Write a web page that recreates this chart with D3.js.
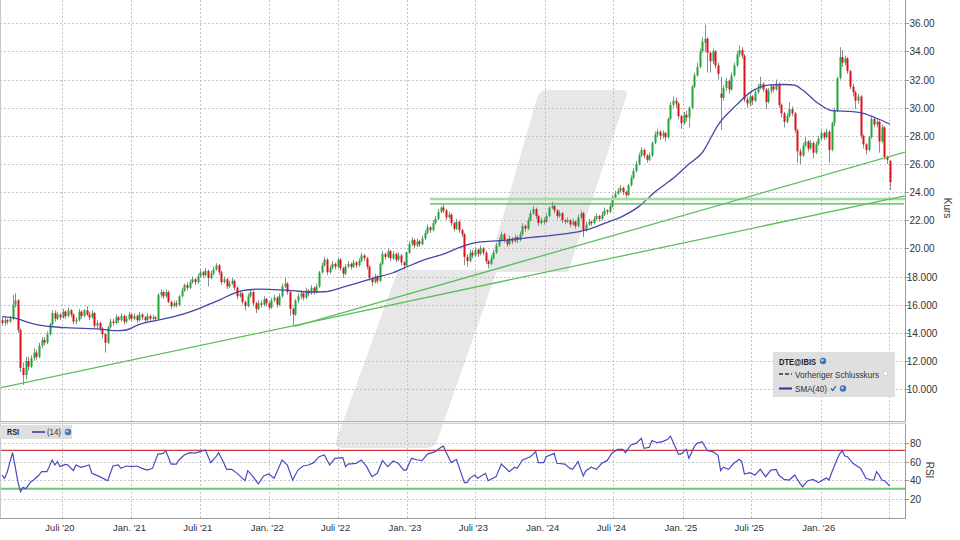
<!DOCTYPE html>
<html>
<head>
<meta charset="utf-8">
<script src="https://cdn.jsdelivr.net/npm/d3@7"></script>
<style>
  body { margin: 0; background: #fff; }
  svg { display: block; font-family: "Liberation Sans", Arial, sans-serif; }
</style>
</head>
<body>
<svg id="chart"></svg>
<script>
const width = 960;
const height = 540;

// weekly candles, first week
const firstWeek = Date.UTC(2020, 0, 24);

const opens = [
  14.9,14.7,14.9,14.8,15.0,16.0,16.3,14.2,11.5,11.0,
  12.0,11.6,12.2,12.6,12.3,13.1,13.5,13.3,13.9,14.6,
  15.4,15.0,15.3,15.1,15.5,15.2,15.6,15.3,14.8,14.9,
  15.5,15.2,15.6,15.3,15.1,15.4,14.5,14.7,14.3,13.9,
  13.3,14.4,14.8,14.7,15.1,14.9,15.2,14.8,15.0,15.3,
  15.0,15.2,14.9,15.3,15.1,14.9,15.2,15.0,15.1,15.0,
  16.7,16.9,16.6,16.9,16.2,15.9,16.1,16.0,16.6,17.0,
  17.4,17.2,17.6,17.8,17.6,18.0,18.3,18.1,18.4,17.9,
  18.2,18.5,18.8,18.3,17.6,17.8,17.3,17.5,17.7,17.2,
  16.6,16.8,16.2,15.9,16.6,16.9,16.1,15.7,16.1,16.0,
  16.4,16.1,15.8,16.3,16.5,16.0,16.6,17.3,17.5,16.9,
  15.7,15.3,16.3,16.6,16.8,16.5,17.0,16.8,17.2,16.9,
  17.3,18.3,18.8,19.2,18.3,18.6,18.9,18.7,19.2,18.6,
  18.2,18.7,18.9,18.7,19.0,18.8,19.1,19.5,19.3,18.7,
  17.9,17.6,18.0,17.7,18.9,19.6,19.4,19.8,19.3,19.6,
  19.2,19.5,19.0,18.8,19.7,20.3,20.6,20.2,20.5,20.3,
  20.7,21.1,21.5,21.3,21.8,22.1,22.6,22.9,22.7,22.2,
  22.4,21.8,21.4,21.9,21.3,21.0,19.4,19.1,19.7,19.5,
  19.9,19.6,20.0,19.7,19.1,18.9,19.3,19.7,20.2,20.6,
  21.0,20.6,20.3,20.7,20.5,20.8,20.6,21.0,21.6,21.4,
  22.0,22.5,22.8,22.3,21.8,22.0,21.9,22.3,22.9,23.0,
  22.7,22.3,22.5,22.0,21.9,22.0,21.7,21.9,21.6,22.2,
  22.5,21.3,21.7,21.9,21.8,22.1,22.3,22.1,22.4,22.7,
  22.6,23.0,23.6,23.9,24.1,24.3,24.0,23.8,24.5,25.0,
  25.5,26.0,26.6,27.0,26.6,26.3,26.6,27.5,28.1,28.3,
  28.0,28.2,27.9,29.2,30.2,30.5,30.3,29.4,28.9,29.5,
  29.3,30.0,31.5,32.3,32.9,34.0,34.6,34.9,33.9,33.3,
  34.0,33.0,31.0,30.7,31.4,31.9,31.3,32.3,33.0,33.8,
  34.1,33.7,30.6,30.3,30.8,30.5,31.1,31.4,31.7,31.3,
  30.4,31.2,31.5,31.3,31.7,30.2,29.6,29.0,29.4,29.9,
  29.6,28.4,26.9,26.6,27.3,27.6,27.1,27.5,26.8,27.4,
  27.8,28.2,27.9,28.3,27.0,28.9,29.8,32.1,33.6,33.2,
  33.5,32.6,31.5,31.1,30.5,30.8,28.0,27.4,27.0,27.9,
  29.2,28.8,29.0,27.6,28.6,26.5,26.2
];
const closes = [
  14.7,14.9,14.8,15.0,16.0,16.3,14.2,11.5,11.0,12.0,
  11.6,12.2,12.6,12.3,13.1,13.5,13.3,13.9,14.6,15.4,
  15.0,15.3,15.1,15.5,15.2,15.6,15.3,14.8,14.9,15.5,
  15.2,15.6,15.3,15.1,15.4,14.5,14.7,14.3,13.9,13.3,
  14.4,14.8,14.7,15.1,14.9,15.2,14.8,15.0,15.3,15.0,
  15.2,14.9,15.3,15.1,14.9,15.2,15.0,15.1,15.0,16.7,
  16.9,16.6,16.9,16.2,15.9,16.1,16.0,16.6,17.0,17.4,
  17.2,17.6,17.8,17.6,18.0,18.3,18.1,18.4,17.9,18.2,
  18.5,18.8,18.3,17.6,17.8,17.3,17.5,17.7,17.2,16.6,
  16.8,16.2,15.9,16.6,16.9,16.1,15.7,16.1,16.0,16.4,
  16.1,15.8,16.3,16.5,16.0,16.6,17.3,17.5,16.9,15.7,
  15.3,16.3,16.6,16.8,16.5,17.0,16.8,17.2,16.9,17.3,
  18.3,18.8,19.2,18.3,18.6,18.9,18.7,19.2,18.6,18.2,
  18.7,18.9,18.7,19.0,18.8,19.1,19.5,19.3,18.7,17.9,
  17.6,18.0,17.7,18.9,19.6,19.4,19.8,19.3,19.6,19.2,
  19.5,19.0,18.8,19.7,20.3,20.6,20.2,20.5,20.3,20.7,
  21.1,21.5,21.3,21.8,22.1,22.6,22.9,22.7,22.2,22.4,
  21.8,21.4,21.9,21.3,21.0,19.4,19.1,19.7,19.5,19.9,
  19.6,20.0,19.7,19.1,18.9,19.3,19.7,20.2,20.6,21.0,
  20.6,20.3,20.7,20.5,20.8,20.6,21.0,21.6,21.4,22.0,
  22.5,22.8,22.3,21.8,22.0,21.9,22.3,22.9,23.0,22.7,
  22.3,22.5,22.0,21.9,22.0,21.7,21.9,21.6,22.2,22.5,
  21.3,21.7,21.9,21.8,22.1,22.3,22.1,22.4,22.7,22.6,
  23.0,23.6,23.9,24.1,24.3,24.0,23.8,24.5,25.0,25.5,
  26.0,26.6,27.0,26.6,26.3,26.6,27.5,28.1,28.3,28.0,
  28.2,27.9,29.2,30.2,30.5,30.3,29.4,28.9,29.5,29.3,
  30.0,31.5,32.3,32.9,34.0,34.7,34.9,33.9,33.3,34.0,
  33.0,32.4,30.7,31.4,31.9,31.3,32.3,33.0,33.8,34.1,
  33.7,30.6,30.3,30.8,30.5,31.1,31.4,31.7,31.3,30.4,
  31.2,31.5,31.3,31.7,30.2,29.6,29.0,29.4,29.9,29.6,
  28.4,26.9,26.6,27.3,27.6,27.1,27.5,26.8,27.4,27.8,
  28.2,27.9,28.3,27.0,28.9,29.8,32.1,33.6,33.2,33.5,
  32.6,31.5,31.1,30.5,30.8,28.0,27.4,27.0,27.9,29.2,
  28.8,29.0,27.6,28.6,26.5,26.3,24.7
];
const highs = [
  15.1,15.1,15.0,15.2,16.7,16.8,16.4,14.3,11.9,12.3,
  12.3,12.4,12.9,12.8,13.3,13.7,13.7,14.1,14.7,15.6,
  15.6,15.5,15.4,15.7,15.6,15.8,15.7,15.4,15.1,15.7,
  15.6,15.7,15.9,15.5,15.6,15.5,14.9,14.8,14.4,14.0,
  14.5,15.0,15.0,15.3,15.2,15.4,15.3,15.2,15.5,15.4,
  15.4,15.3,15.5,15.4,15.2,15.4,15.3,15.3,15.2,16.8,
  17.1,17.0,17.1,17.0,16.3,16.3,16.3,16.7,17.2,17.5,
  17.6,17.8,18.0,17.9,18.2,18.5,18.4,18.6,18.5,18.4,
  18.7,18.95,18.9,18.4,18.0,17.9,17.7,17.9,17.8,17.3,
  17.0,16.9,16.3,16.8,17.1,17.0,16.2,16.3,16.3,16.6,
  16.5,16.2,16.5,16.7,16.6,16.8,17.5,17.9,17.6,17.0,
  15.8,16.4,16.8,17.0,16.9,17.2,17.1,17.4,17.3,17.5,
  18.4,19.0,19.4,19.3,18.8,19.1,19.0,19.3,19.3,18.7,
  18.9,19.1,19.0,19.2,19.1,19.3,19.7,19.6,19.4,18.8,
  18.0,18.2,18.1,19.0,19.8,19.7,20.0,19.9,19.8,19.7,
  19.7,19.6,19.1,19.8,20.5,20.8,20.7,20.7,20.6,20.9,
  21.3,21.7,21.6,22.0,22.3,22.8,23.0,23.15,22.8,22.6,
  22.5,21.9,22.1,22.0,21.4,21.1,19.6,19.9,19.9,20.1,
  20.0,20.2,20.1,19.8,19.2,19.5,19.9,20.4,20.8,21.2,
  21.1,20.7,20.9,20.8,21.0,20.9,21.2,21.8,21.7,22.2,
  22.7,23.0,22.9,22.4,22.2,22.2,22.5,23.0,23.3,23.1,
  22.8,22.7,22.6,22.1,22.2,22.1,22.1,22.0,22.4,22.7,
  22.6,21.9,22.1,22.0,22.3,22.5,22.4,22.6,22.9,22.8,
  23.2,23.8,24.1,24.3,24.5,24.4,24.1,24.6,25.2,25.7,
  26.2,26.8,27.2,27.1,26.7,26.8,27.6,28.3,28.5,28.4,
  28.4,28.3,29.3,30.4,30.8,30.7,30.4,29.5,29.7,29.8,
  30.1,31.6,32.5,33.2,34.2,35.0,35.9,35.0,34.0,34.2,
  34.1,33.2,32.2,31.6,32.1,32.0,32.5,33.2,34.0,34.4,
  34.3,33.8,30.8,31.0,30.9,31.3,31.7,32.2,31.8,31.4,
  31.4,31.7,31.6,32.0,31.8,30.3,29.7,29.6,30.4,30.1,
  29.7,28.5,27.1,27.5,27.9,27.7,27.7,27.6,27.6,28.0,
  28.4,28.3,28.5,28.4,29.0,30.0,32.2,34.3,34.1,33.7,
  33.6,32.7,31.7,31.2,31.0,30.9,28.1,27.5,28.0,29.4,
  29.3,29.2,29.1,28.8,28.7,26.6,26.3
];
const lows = [
  14.5,14.5,14.6,14.7,14.9,15.8,14.0,11.2,10.3,10.7,
  11.3,11.5,12.0,12.1,12.2,12.9,13.1,13.2,13.8,14.5,
  14.8,14.9,14.9,15.0,15.0,15.1,15.1,14.6,14.6,14.8,
  15.0,15.1,15.2,14.9,15.0,14.3,14.3,14.1,13.6,12.6,
  13.2,14.3,14.5,14.6,14.7,14.8,14.6,14.7,14.9,14.8,
  14.9,14.7,14.8,14.9,14.7,14.8,14.8,14.9,14.8,14.9,
  16.5,16.4,16.5,16.1,15.7,15.8,15.8,15.9,16.5,16.9,
  17.0,17.1,17.5,17.4,17.5,17.9,17.9,18.0,17.3,17.8,
  18.1,18.4,18.1,17.4,17.5,17.1,17.2,17.4,17.0,16.4,
  16.5,16.0,15.6,15.8,16.5,15.9,15.4,15.6,15.8,15.9,
  15.9,15.6,15.7,16.2,15.8,15.9,16.5,17.2,16.7,15.2,
  14.45,15.2,16.1,16.4,16.3,16.4,16.6,16.7,16.7,16.8,
  17.2,18.2,18.7,18.1,18.2,18.5,18.5,18.6,18.4,17.9,
  18.1,18.6,18.5,18.6,18.6,18.7,19.0,19.1,18.5,17.7,
  17.3,17.5,17.5,17.6,18.8,19.2,19.3,19.1,19.2,19.0,
  19.1,18.8,18.5,18.7,19.6,20.2,20.0,20.1,20.1,20.2,
  20.6,21.0,21.1,21.2,21.7,22.0,22.5,22.5,22.0,22.1,
  21.6,21.2,21.3,21.1,20.8,18.8,18.7,19.0,19.3,19.4,
  19.4,19.5,19.5,18.9,18.6,18.8,19.2,19.6,20.1,20.5,
  20.4,20.1,20.2,20.3,20.4,20.4,20.5,20.9,21.2,21.3,
  21.9,22.4,22.1,21.6,21.7,21.7,21.8,22.2,22.8,22.5,
  22.1,22.2,21.8,21.7,21.8,21.5,21.6,21.4,21.5,22.1,
  20.8,21.2,21.6,21.6,21.7,22.0,21.9,22.0,22.3,22.4,
  22.5,22.9,23.5,23.8,24.0,23.8,23.4,23.7,24.4,24.9,
  25.4,25.9,26.5,26.4,26.1,26.2,26.5,27.4,27.9,27.7,
  27.8,27.6,27.8,29.1,30.0,30.0,29.2,28.5,28.8,29.0,
  28.6,29.9,31.4,32.2,32.8,33.9,34.0,32.5,32.5,33.1,
  32.8,32.0,28.4,30.5,31.2,31.0,31.2,32.2,32.9,33.6,
  33.5,30.4,30.0,30.1,30.2,30.4,31.0,31.3,31.1,29.9,
  30.3,31.0,31.1,31.2,30.0,29.3,28.6,28.9,29.3,29.4,
  28.2,26.1,26.0,26.5,27.2,26.9,27.0,26.4,26.7,27.3,
  27.7,27.7,27.8,26.1,26.9,28.7,29.7,32.0,32.9,33.0,
  32.4,31.3,30.8,29.9,30.3,27.8,27.1,26.7,26.9,27.8,
  28.6,28.6,26.8,27.5,26.3,26.0,24.15
];

// SMA(40), read at selected weeks
const smaWeeks = [0,6,9,14,18,26,37,44,47,52,59,65,72,78,83,87,91,97,103,110,
  116,122,129,135,141,148,154,160,167,173,178,184,190,197,203,209,216,222,228,235,
  241,247,254,260,265,271,278,284,290,296,300,303,309,314,322,326,331,336];
const smaValues = [15.15,15.0,14.8,14.55,14.45,14.35,14.27,14.15,14.2,14.6,14.9,15.15,15.55,16.0,16.4,16.75,17.0,17.1,17.07,17.0,
  16.9,16.92,17.24,17.57,17.9,18.27,18.75,19.2,19.6,20.05,20.36,20.5,20.57,20.72,20.83,20.95,21.12,21.36,21.78,22.3,
  22.97,24.0,24.98,26.0,26.8,28.77,30.2,31.2,31.6,31.65,31.6,31.26,30.3,29.8,29.72,29.6,29.25,28.84];

// RSI(14)
const rsiWeeks = [0,1,2,4,5,6,7,8,9,11,
  12,14,15,17,19,20,21,22,24,25,
  27,28,30,33,34,37,40,42,44,45,
  47,49,51,53,55,57,59,61,62,64,
  66,67,69,71,73,75,77,79,81,82,
  84,85,87,89,92,93,95,97,99,101,
  103,106,108,110,112,114,116,118,120,122,
  124,126,129,130,131,134,136,138,140,142,
  144,146,148,150,152,153,155,157,159,161,
  164,165,167,168,170,172,175,176,177,179,
  180,182,183,184,187,189,192,194,195,197,
  200,202,203,205,206,209,210,213,215,216,
  218,220,221,223,225,227,229,231,233,235,
  236,238,240,242,243,245,246,248,250,252,
  253,256,257,259,260,262,263,265,267,269,
  271,272,273,275,277,279,280,281,283,285,
  287,289,291,293,294,296,298,300,302,303,
  305,307,309,311,312,313,314,316,317,318,
  319,320,322,324,325,327,329,330,331,332,
  333,334,336];
const rsiValues = [45.7,42.2,49,69.5,54.6,38.7,28,32.6,31.2,38.7,
  40.4,45.7,49.3,49.3,61.7,56.4,60,54.6,57,56.4,
  50.4,56.4,54,56.4,47.5,44,39.7,55.3,56.4,52.8,
  55.3,54.6,55.3,52.8,51,52.8,68,68.8,71.6,57.4,
  57.4,61.7,67,69.5,69,70.6,72.3,58.9,65.2,69.5,
  58.2,51.8,51.8,47.5,39.7,50.4,44,36.2,44.7,46.8,
  42.2,61.7,56.4,40.4,51,55.3,56.4,58.9,65.2,67,
  56.4,63.5,64.2,54.6,57.4,58.2,61.7,54.6,44,47.5,
  61,54.6,60.6,58.2,51,51,63.5,62,61,68,
  70.6,73,76.6,70.6,58.9,62.4,37.6,37.6,42.2,45.7,
  42.2,45.7,47.5,39.7,44,57.4,49.3,54,52.8,61.7,
  65.2,70.6,58.9,58.9,65.2,68.8,58.2,57.4,52.8,51.8,
  60,44.7,50.4,54,51.8,58.2,61,69.5,73,73,
  69.5,77.7,79.4,84.8,74.1,75.2,82.3,80.1,81.2,83.7,
  87.2,68,68,73,63.5,75.9,79.4,81.2,71.6,70.6,
  67,50.4,54,51.8,58.2,62.4,60,46.8,48.2,45.7,
  51.8,44,51,51.8,45.7,41.1,40.4,45.7,36.9,33.3,
  39.7,41.1,37.6,41.1,42.5,40.5,48.2,62,68,71.6,
  66,65.2,58.2,54.6,52.8,42.2,40.4,40.4,49.3,45.7,
  40.4,39.7,34];
const rsiUpper = 72;
const rsiLower = 31;

// trend lines and support lines (date, price)
const trendLines = [
  { from: ["2020-01-19", 10.08], to: ["2026-08-12", 23.73] },
  { from: ["2022-03-10", 14.45], to: ["2026-08-12", 26.85] }
];
const supportLight = { from: "2023-03-03", to: "2026-08-12", price: 23.51 };
const supportDark = { from: "2023-03-03", to: "2026-08-10", price: 23.16 };

const xTickDates = ["2020-07-01","2021-01-01","2021-07-01","2022-01-01","2022-07-01","2023-01-01","2023-07-01",
  "2024-01-01","2024-07-01","2025-01-01","2025-07-01","2026-01-01","2026-07-01"];
const xTickLabels = ["Juli '20","Jan. '21","Juli '21","Jan. '22","Juli '22","Jan. '23","Juli '23",
  "Jan. '24","Juli '24","Jan. '25","Juli '25","Jan. '26",""];
const yTicks = [10,12,14,16,18,20,22,24,26,28,30,32,34,36];
const yTickLabels = ["10.000","12.000","14.000","16.000","18.000","20.00","22.00","24.00","26.00","28.00","30.00","32.00","34.00","36.00"];
const rsiTicks = [20,40,60,80];

// ---------------------------------------------------------------
const day = 864e5;
const weekDate = i => new Date(firstWeek + i * 7 * day);
const parse = s => new Date(s + "T00:00:00Z");

const plotRight = 905;
const mainTop = 0, mainBottom = 421;
const rsiTop = 424, rsiBottom = 518;

const x = d3.scaleTime()
  .domain([parse("2020-07-01"), parse("2026-07-01")])
  .range([62, 889]);
const y = d3.scaleLinear().domain([7.733, 37.656]).range([mainBottom, mainTop]);
const yR = d3.scaleLinear().domain([0, 100]).range([rsiBottom, rsiTop]);

const svg = d3.select("#chart").attr("width", width).attr("height", height);

const defs = svg.append("defs");
defs.append("clipPath").attr("id", "clipMain")
  .append("rect").attr("x", 0).attr("y", mainTop).attr("width", plotRight).attr("height", mainBottom - mainTop);
defs.append("clipPath").attr("id", "clipRsi")
  .append("rect").attr("x", 0).attr("y", rsiTop).attr("width", plotRight).attr("height", rsiBottom - rsiTop);

// watermark (two offset slanted bars)
const wm = svg.append("g").attr("fill", "#e7e7e7");
wm.append("path")
  .attr("d", "M546,90 L621,90 Q629,90 626,98 L568,272 L487,272 L537,98 Q540,90 546,90 Z");
wm.append("path")
  .attr("d", "M398,270 L497,270 L437,441 Q434,448 427,448 L342,448 Q334,448 336,441 Z");

// grid
const grid = svg.append("g").attr("stroke", "#c4c4c4").attr("stroke-dasharray", "2,2").attr("stroke-width", 1);
yTicks.forEach(v => {
  grid.append("line").attr("x1", 0).attr("x2", plotRight)
    .attr("y1", Math.round(y(v)) + 0.5).attr("y2", Math.round(y(v)) + 0.5);
});
rsiTicks.forEach(v => {
  grid.append("line").attr("x1", 0).attr("x2", plotRight)
    .attr("y1", Math.round(yR(v)) + 0.5).attr("y2", Math.round(yR(v)) + 0.5);
});
xTickDates.forEach(d => {
  const xx = Math.round(x(parse(d))) + 0.5;
  grid.append("line").attr("x1", xx).attr("x2", xx).attr("y1", mainTop).attr("y2", mainBottom);
  grid.append("line").attr("x1", xx).attr("x2", xx).attr("y1", rsiTop).attr("y2", rsiBottom);
});

// main plot
const main = svg.append("g").attr("clip-path", "url(#clipMain)");

const candles = closes.map((c, i) => ({ d: weekDate(i), o: opens[i], h: highs[i], l: lows[i], c }));

main.append("g").selectAll("line")
  .data(candles).join("line")
  .attr("x1", d => Math.round(x(d.d)) + 0.5)
  .attr("x2", d => Math.round(x(d.d)) + 0.5)
  .attr("y1", d => y(d.h))
  .attr("y2", d => y(d.l))
  .attr("stroke", "#8c8c8c")
  .attr("stroke-width", 1);

main.append("g").selectAll("rect")
  .data(candles).join("rect")
  .attr("x", d => Math.round(x(d.d)) - 0.5)
  .attr("width", 2)
  .attr("y", d => y(Math.max(d.o, d.c)))
  .attr("height", d => Math.max(1, Math.abs(y(d.o) - y(d.c))))
  .attr("fill", d => d.c >= d.o ? "#1fa83a" : "#e0101a");

// SMA
const smaData = smaWeeks.map((w, i) => ({ d: weekDate(w), v: smaValues[i] }));
main.append("path")
  .datum(smaData)
  .attr("fill", "none")
  .attr("stroke", "#4646a8")
  .attr("stroke-width", 1.3)
  .attr("d", d3.line().x(d => x(d.d)).y(d => y(d.v)).curve(d3.curveMonotoneX));

// support lines
main.append("line")
  .attr("x1", x(parse(supportLight.from))).attr("x2", x(parse(supportLight.to)))
  .attr("y1", y(supportLight.price)).attr("y2", y(supportLight.price))
  .attr("stroke", "#9fe09f").attr("stroke-width", 2.5);
main.append("line")
  .attr("x1", x(parse(supportDark.from))).attr("x2", x(parse(supportDark.to)))
  .attr("y1", y(supportDark.price)).attr("y2", y(supportDark.price))
  .attr("stroke", "#4cb04c").attr("stroke-width", 1.2);

// trend lines
main.selectAll(".trend")
  .data(trendLines).join("line")
  .attr("class", "trend")
  .attr("x1", d => x(parse(d.from[0]))).attr("y1", d => y(d.from[1]))
  .attr("x2", d => x(parse(d.to[0]))).attr("y2", d => y(d.to[1]))
  .attr("stroke", "#5cbf5c").attr("stroke-width", 1.3);

// RSI panel
const rsiG = svg.append("g").attr("clip-path", "url(#clipRsi)");
rsiG.append("line").attr("x1", 0).attr("x2", plotRight)
  .attr("y1", yR(rsiUpper)).attr("y2", yR(rsiUpper))
  .attr("stroke", "#d03a3a").attr("stroke-width", 1.3);
rsiG.append("line").attr("x1", 0).attr("x2", plotRight)
  .attr("y1", yR(rsiLower)).attr("y2", yR(rsiLower))
  .attr("stroke", "#6cc86c").attr("stroke-width", 2);
const rsiData = rsiWeeks.map((w, i) => ({ d: weekDate(w), v: rsiValues[i] }));
rsiG.append("path")
  .datum(rsiData)
  .attr("fill", "none")
  .attr("stroke", "#4a4ac0")
  .attr("stroke-width", 1.2)
  .attr("d", d3.line().x(d => x(d.d)).y(d => yR(d.v)));

// frames
const frame = svg.append("g").attr("fill", "none");
frame.append("line").attr("x1", 0.5).attr("x2", 0.5).attr("y1", 0).attr("y2", rsiBottom).attr("stroke", "#c8c8c8");
frame.append("line").attr("x1", plotRight + 0.5).attr("x2", plotRight + 0.5).attr("y1", 0).attr("y2", mainBottom).attr("stroke", "#9a9a9a");
frame.append("line").attr("x1", plotRight + 0.5).attr("x2", plotRight + 0.5).attr("y1", rsiTop).attr("y2", rsiBottom + 1).attr("stroke", "#9a9a9a");
frame.append("rect").attr("x", 0).attr("y", mainBottom).attr("width", plotRight + 1).attr("height", rsiTop - mainBottom).attr("fill", "#ececec");
frame.append("line").attr("x1", 0).attr("x2", plotRight + 1).attr("y1", mainBottom + 0.5).attr("y2", mainBottom + 0.5).attr("stroke", "#b4b4b4");
frame.append("line").attr("x1", 0).attr("x2", plotRight + 1).attr("y1", rsiTop - 0.5).attr("y2", rsiTop - 0.5).attr("stroke", "#d0d0d0");
frame.append("line").attr("x1", 0).attr("x2", plotRight + 1).attr("y1", rsiBottom + 0.5).attr("y2", rsiBottom + 0.5).attr("stroke", "#9a9a9a");

// y axis (price)
const yAxisG = svg.append("g").attr("font-size", 10).attr("fill", "#333");
yTicks.forEach((v, i) => {
  const yy = Math.round(y(v)) + 0.5;
  yAxisG.append("line").attr("x1", plotRight).attr("x2", plotRight + 4).attr("y1", yy).attr("y2", yy).attr("stroke", "#9a9a9a");
  yAxisG.append("text").attr("x", 922).attr("y", yy).attr("dy", "0.35em")
    .attr("text-anchor", "middle").text(yTickLabels[i]);
});
rsiTicks.forEach(v => {
  const yy = Math.round(yR(v)) + 0.5;
  yAxisG.append("line").attr("x1", plotRight).attr("x2", plotRight + 4).attr("y1", yy).attr("y2", yy).attr("stroke", "#9a9a9a");
  yAxisG.append("text").attr("x", 910).attr("y", yy).attr("dy", "0.35em").text(v);
});
yAxisG.append("text").attr("transform", "translate(944,208) rotate(90)")
  .attr("text-anchor", "middle").attr("font-size", 10).text("Kurs");
yAxisG.append("text").attr("transform", "translate(926,470) rotate(90)")
  .attr("text-anchor", "middle").attr("font-size", 10).text("RSI");

// x axis labels
const xAxisG = svg.append("g").attr("font-size", 9.5).attr("fill", "#333");
xTickDates.forEach((d, i) => {
  xAxisG.append("text").attr("x", x(parse(d)) - 2).attr("y", 531)
    .attr("text-anchor", "middle").text(xTickLabels[i]);
});

// globe icon
function globe(g, cx, cy) {
  g.append("circle").attr("cx", cx).attr("cy", cy).attr("r", 3.2).attr("fill", "#3f74b5");
  g.append("circle").attr("cx", cx - 0.8).attr("cy", cy - 0.8).attr("r", 1.3).attr("fill", "#bcd3ee");
}
function legendText(g, tx, ty, str, len, bold) {
  g.append("text").attr("x", tx).attr("y", ty).attr("font-size", 9)
    .attr("font-weight", bold ? "bold" : "normal").attr("fill", bold ? "#222" : "#333")
    .attr("textLength", len).attr("lengthAdjust", "spacingAndGlyphs").text(str);
}

// legend (main)
const leg = svg.append("g");
leg.append("rect").attr("x", 773).attr("y", 352).attr("width", 122).attr("height", 45).attr("fill", "#dcdcdc").attr("opacity", 0.92);
legendText(leg, 779, 364.5, "DTE@IBIS", 37, true);
globe(leg, 823, 361);
leg.append("line").attr("x1", 779).attr("x2", 792).attr("y1", 374).attr("y2", 374)
  .attr("stroke", "#333").attr("stroke-width", 1.3).attr("stroke-dasharray", "4,2");
legendText(leg, 795, 378, "Vorheriger Schlusskurs", 84, false);
leg.append("rect").attr("x", 883.5).attr("y", 371.5).attr("width", 4).attr("height", 4).attr("fill", "#fff").attr("stroke", "#d4d4d4");
leg.append("line").attr("x1", 779).attr("x2", 792).attr("y1", 388.5).attr("y2", 388.5)
  .attr("stroke", "#30309a").attr("stroke-width", 2);
legendText(leg, 795, 392, "SMA(40)", 32, false);
leg.append("path").attr("d", "M831,388.5 L832.8,390.5 L835.8,386.2").attr("fill", "none").attr("stroke", "#2b62b0").attr("stroke-width", 1.3);
globe(leg, 843, 388.5);

// legend (RSI)
const legR = svg.append("g");
legR.append("rect").attr("x", 0).attr("y", 425).attr("width", 72).attr("height", 14).attr("fill", "#dcdcdc").attr("opacity", 0.92);
legendText(legR, 7, 435, "RSI", 12, true);
legR.append("line").attr("x1", 32).attr("x2", 45).attr("y1", 432).attr("y2", 432).attr("stroke", "#30309a").attr("stroke-width", 1.5);
legendText(legR, 47, 435, "(14)", 14, false);
globe(legR, 68, 432);
</script>
</body>
</html>
